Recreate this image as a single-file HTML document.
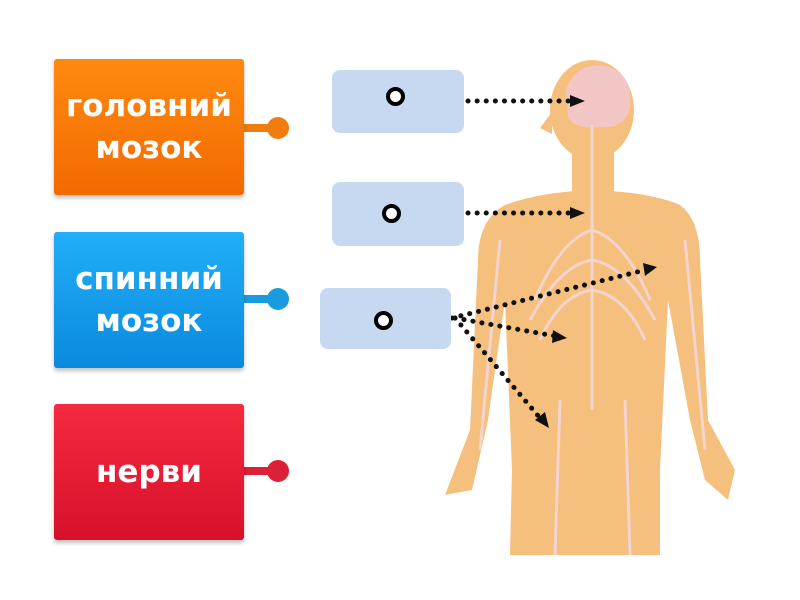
<!DOCTYPE html>
<html><head><meta charset="utf-8"><style>
body{margin:0;width:800px;height:600px;background:#fff;position:relative;overflow:hidden;font-family:"DejaVu Sans","Liberation Sans",sans-serif}
.t{position:absolute;left:54px;width:190px;height:136px;border-radius:3px;color:#fff;font-weight:bold;font-size:31px;line-height:42px;display:flex;align-items:center;justify-content:center;text-align:center;box-shadow:0 3px 4px rgba(0,0,0,.25)}
.b{position:absolute;background:#c6d9f1;border-radius:8px}
.c{position:absolute;width:11px;height:11px;border:4px solid #000;border-radius:50%;background:#fff}
</style></head><body>
<svg width="800" height="600" style="position:absolute;left:0;top:0">
<g fill="#f5c07e">
<ellipse cx="592" cy="110" rx="42" ry="50"/>
<path d="M552 112 L540 128 L552 134 Z"/>
<rect x="572" y="140" width="42" height="60"/>
<path d="M505 205 Q540 192 592 190 Q650 192 680 205 Q700 220 700 260 L708 420 L735 470 L728 500 L705 480 L690 420 L668 300 L660 470 L660 555 L510 555 L512 470 L505 300 L488 420 L472 490 L445 495 L470 430 L478 260 Q478 220 505 205 Z"/>
</g>
<path d="M566 90 Q576 62 606 66 Q634 74 630 108 Q624 130 600 127 Q575 130 568 117 Z" fill="#f2c6c4"/>
<g stroke="#f4d4cc" stroke-width="3" fill="none">
<path d="M592 125 L592 410"/>
<path d="M592 230 Q560 240 535 300 M592 230 Q625 240 650 300 M592 260 Q560 265 530 320 M592 260 Q625 265 655 320 M592 290 Q560 295 540 340 M592 290 Q625 295 645 340"/>
<path d="M560 400 L555 555 M625 400 L630 555 M500 240 L480 450 M685 240 L705 450"/>
</g>
<g stroke="#111" stroke-width="5" stroke-dasharray="0.1 9" stroke-linecap="round" fill="none">
<path d="M468 101 L572 101"/>
<path d="M468 213 L572 213"/>
<path d="M452 318 L645 270"/>
<path d="M455 318 L555 336"/>
<path d="M455 318 L540 418"/>
</g>
<g fill="#111">
<path d="M585 101 L570 95 L570 107 Z"/>
<path d="M585 213 L570 207 L570 219 Z"/>
<path d="M657 267 L643 263 L645 276 Z"/>
<path d="M567 338 L553 330 L552 343 Z"/>
<path d="M549 428 L545 412 L535 420 Z"/>
</g>
<g>
<rect x="244" y="124" width="34" height="8" fill="#f07d10"/><circle cx="278" cy="128" r="11" fill="#f07d10"/>
<rect x="244" y="295" width="34" height="8" fill="#1a9be0"/><circle cx="278" cy="299" r="11" fill="#1a9be0"/>
<rect x="244" y="467" width="34" height="8" fill="#dc2038"/><circle cx="278" cy="471" r="11" fill="#dc2038"/>
</g>
</svg>
<div class="t" style="top:59px;background:linear-gradient(#ff8a10,#f26a00)">головний<br>мозок</div>
<div class="t" style="top:232px;background:linear-gradient(#22aef8,#0a8ade)">спинний<br>мозок</div>
<div class="t" style="top:404px;background:linear-gradient(#f42a40,#d8102a)">нерви</div>
<div class="b" style="left:332px;top:70px;width:132px;height:63px"></div>
<div class="b" style="left:332px;top:182px;width:132px;height:64px"></div>
<div class="b" style="left:320px;top:288px;width:131px;height:61px"></div>
<div class="c" style="left:386px;top:87px"></div>
<div class="c" style="left:382px;top:204px"></div>
<div class="c" style="left:374px;top:311px"></div>
</body></html>
